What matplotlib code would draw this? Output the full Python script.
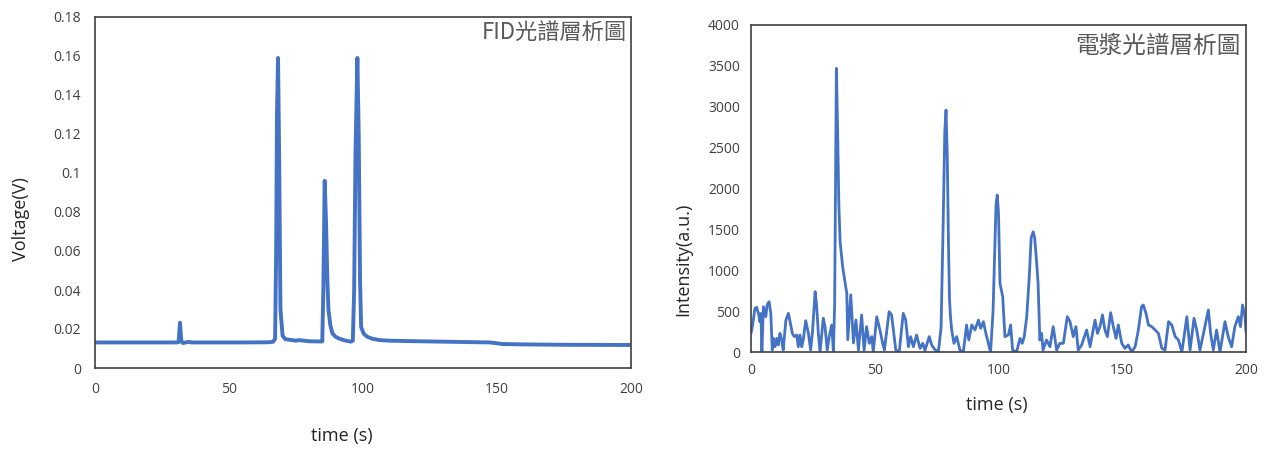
import matplotlib
matplotlib.use("Agg")
import matplotlib.pyplot as plt

plt.rcParams['font.family'] = ['Open Sans', 'Noto Sans CJK TC', 'DejaVu Sans']

### FID chromatogram (time s, voltage V)
fid_time = [0, 10, 20, 30, 31.2, 31.7, 32.2, 32.8, 35, 36, 45, 55, 65, 66.5, 67.2,
            67.6, 67.9, 68.3, 68.7, 69.2, 70, 71, 75, 76, 80, 84.8, 85.2, 85.7,
            86.2, 86.7, 87.1, 87.8, 88.6, 89.6, 90.9, 93, 95.5, 96.2, 96.7, 97.2,
            97.9, 98.4, 98.9, 99.3, 100.3, 101.6, 103.5, 106.2, 110, 117, 130,
            147.5, 152, 160, 175, 200]
fid_volt = [0.0131, 0.0131, 0.0131, 0.0131, 0.0132, 0.0232, 0.0140, 0.0128, 0.0134, 0.0131,
            0.0131, 0.0131, 0.0132, 0.0135, 0.0150, 0.060, 0.130, 0.159, 0.110, 0.030,
            0.0165, 0.0148, 0.0140, 0.0143, 0.0137, 0.0136, 0.040, 0.096, 0.075, 0.045,
            0.030, 0.022, 0.0177, 0.0162, 0.0152, 0.0142, 0.0135, 0.0140, 0.040, 0.110,
            0.159, 0.120, 0.045, 0.0210, 0.0175, 0.0160, 0.0150, 0.0143, 0.0140, 0.0138,
            0.0135, 0.0131, 0.0123, 0.0121, 0.0119, 0.0118]

### Plasma emission chromatogram (time s, intensity a.u.)
oes_time = [0, 0.5, 1.6, 2.3, 3.0, 3.6, 4.0, 4.4, 5.0, 6.0, 6.5, 7.3, 8.0, 8.6, 9.0, 9.7,
            10.4, 11.0, 11.7, 12.4, 13.0, 14.1, 15.1, 15.8, 16.7, 17.5, 18.5, 19.1,
            19.8, 20.5, 21.1, 22.1, 23.2, 24.1, 24.9, 25.9, 26.5, 27.2, 27.9, 29.2,
            29.9, 30.8, 31.6, 32.6, 33.3, 33.8, 34.5, 35.0, 35.5, 36.0, 37.0, 38.0,
            38.7, 39.1, 40.3, 41.4, 42.4, 43.4, 44.7, 45.7, 46.7, 47.8, 48.8, 49.4,
            50.8, 52.1, 53.2, 53.9, 55.8, 56.8, 58.5, 59.9, 61.5, 62.5, 63.6, 64.5,
            65.6, 66.9, 68.3, 69.4, 70.3, 72.0, 73.0, 74.3, 75.7, 76.8, 77.6, 78.3,
            78.8, 79.3, 79.8, 80.2, 80.6, 81.1, 82.0, 83.1, 84.4, 85.8, 87.1, 88.0,
            89.2, 90.5, 91.9, 92.8, 93.9, 94.9, 95.9, 96.8, 97.8, 98.6, 99.0, 99.5,
            100.0, 100.6, 101.0, 101.7, 102.6, 104.0, 104.9, 105.7, 107.3, 108.7,
            109.6, 110.4, 111.4, 112.4, 113.2, 114.0, 114.6, 115.4, 116.0, 116.7,
            117.4, 118.0, 119.4, 120.8, 122.1, 123.5, 124.8, 126.2, 127.8, 128.9,
            130.2, 131.3, 132.2, 133.6, 135.6, 137.0, 139.0, 140.0, 141.0, 142.0,
            143.0, 144.0, 145.3, 146.4, 147.5, 148.4, 149.8, 151.1, 152.4, 153.8,
            155.2, 156.5, 157.8, 158.5, 159.6, 160.6, 161.9, 163.3, 164.6, 166.0,
            167.3, 168.7, 170.0, 171.4, 172.7, 174.1, 176.1, 177.4, 179.0, 180.1,
            181.4, 182.8, 184.8, 185.7, 186.8, 188.1, 189.5, 191.5, 192.8, 194.2,
            195.5, 196.9, 197.8, 198.6, 199.6, 200.0]
oes_int = [230, 300, 534, 546, 473, 371, 470, 0, 555, 432, 575, 615, 473, 24, 167, 65,
           167, 86, 228, 147, 24, 391, 473, 371, 228, 188, 208, 65,
           208, 65, 147, 383, 228, 24, 269, 738, 575, 228, 0, 412,
           310, 24, 188, 330, 0, 600, 3470, 2700, 1800, 1350, 1050, 850,
           720, 150, 700, 110, 391, 24, 453, 20, 310, 106, 188, 0,
           432, 269, 106, 24, 493, 453, 24, 0, 473, 391, 65, 188,
           65, 208, 45, 106, 20, 188, 86, 30, 0, 300, 1500, 2700,
           2960, 2400, 1300, 650, 432, 269, 106, 188, 24, 0, 330, 147,
           330, 269, 391, 290, 371, 228, 106, 0, 500, 1400, 1800, 1920,
           1700, 840, 780, 677, 188, 208, 330, 24, 0, 167,
           106, 188, 432, 900, 1400, 1470, 1400, 1100, 840, 147,
           228, 24, 147, 65, 310, 24, 106, 106, 432, 371,
           188, 310, 24, 86, 269, 65, 391, 228, 310, 453,
           269, 188, 481, 310, 167, 330, 106, 45, 86, 0,
           65, 269, 555, 575, 473, 330, 310, 269, 228, 45,
           24, 371, 330, 188, 147, 0, 432, 24, 412, 269,
           24, 228, 514, 228, 24, 269, 0, 371, 188, 65,
           310, 432, 310, 575, 432, 250]

line_color = '#4472C4'
spine_color = '#404040'
title_color = '#595959'

fig = plt.figure(figsize=(12.71, 4.51), dpi=100)

### Left panel: FID
ax1 = fig.add_axes([95/1271, 1-368/451, 536/1271, 351/451])
ax1.plot(fid_time, fid_volt, color=line_color, linewidth=2.8, solid_joinstyle='round')
ax1.set_xlim(0, 200)
ax1.set_ylim(0, 0.18)
ax1.set_xticks([0, 50, 100, 150, 200])
ax1.set_yticks([0, 0.02, 0.04, 0.06, 0.08, 0.1, 0.12, 0.14, 0.16, 0.18])
ax1.set_yticklabels(['0', '0.02', '0.04', '0.06', '0.08', '0.1', '0.12', '0.14', '0.16', '0.18'])
ax1.tick_params(length=0, labelsize=10, colors='#404040', pad=10)
ax1.set_xlabel('time (s)', fontsize=13, color='#262626')
ax1.set_ylabel('Voltage(V)', fontsize=13, color='#262626')
ax1.xaxis.set_label_coords(0.461, -0.168)
ax1.yaxis.set_label_coords(-0.122, 0.424)
ax1.text(0.992, 0.955, 'FID光譜層析圖', transform=ax1.transAxes, ha='right', va='center',
         fontsize=16, color=title_color, family=['Noto Sans CJK TC', 'DejaVu Sans'])
for s in ax1.spines.values():
    s.set_color(spine_color)
    s.set_linewidth(1.2)

### Right panel: plasma emission
ax2 = fig.add_axes([751/1271, 1-352/451, 495/1271, 327/451])
ax2.plot(oes_time, oes_int, color=line_color, linewidth=2.0, solid_joinstyle='round')
ax2.set_xlim(0, 200)
ax2.set_ylim(0, 4000)
ax2.set_xticks([0, 50, 100, 150, 200])
ax2.set_yticks(list(range(0, 4001, 500)))
ax2.tick_params(length=0, labelsize=10, colors='#404040', pad=8)
ax2.set_xlabel('time (s)', fontsize=13, color='#262626')
ax2.set_ylabel('Intensity(a.u.)', fontsize=13, color='#262626')
ax2.xaxis.set_label_coords(0.497, -0.135)
ax2.yaxis.set_label_coords(-0.119, 0.284)
ax2.text(0.99, 0.935, '電漿光譜層析圖', transform=ax2.transAxes, ha='right', va='center',
         fontsize=17, color=title_color, family=['Noto Sans CJK TC', 'DejaVu Sans'])
for s in ax2.spines.values():
    s.set_color(spine_color)
    s.set_linewidth(1.2)

plt.savefig('out.png', dpi=100)
